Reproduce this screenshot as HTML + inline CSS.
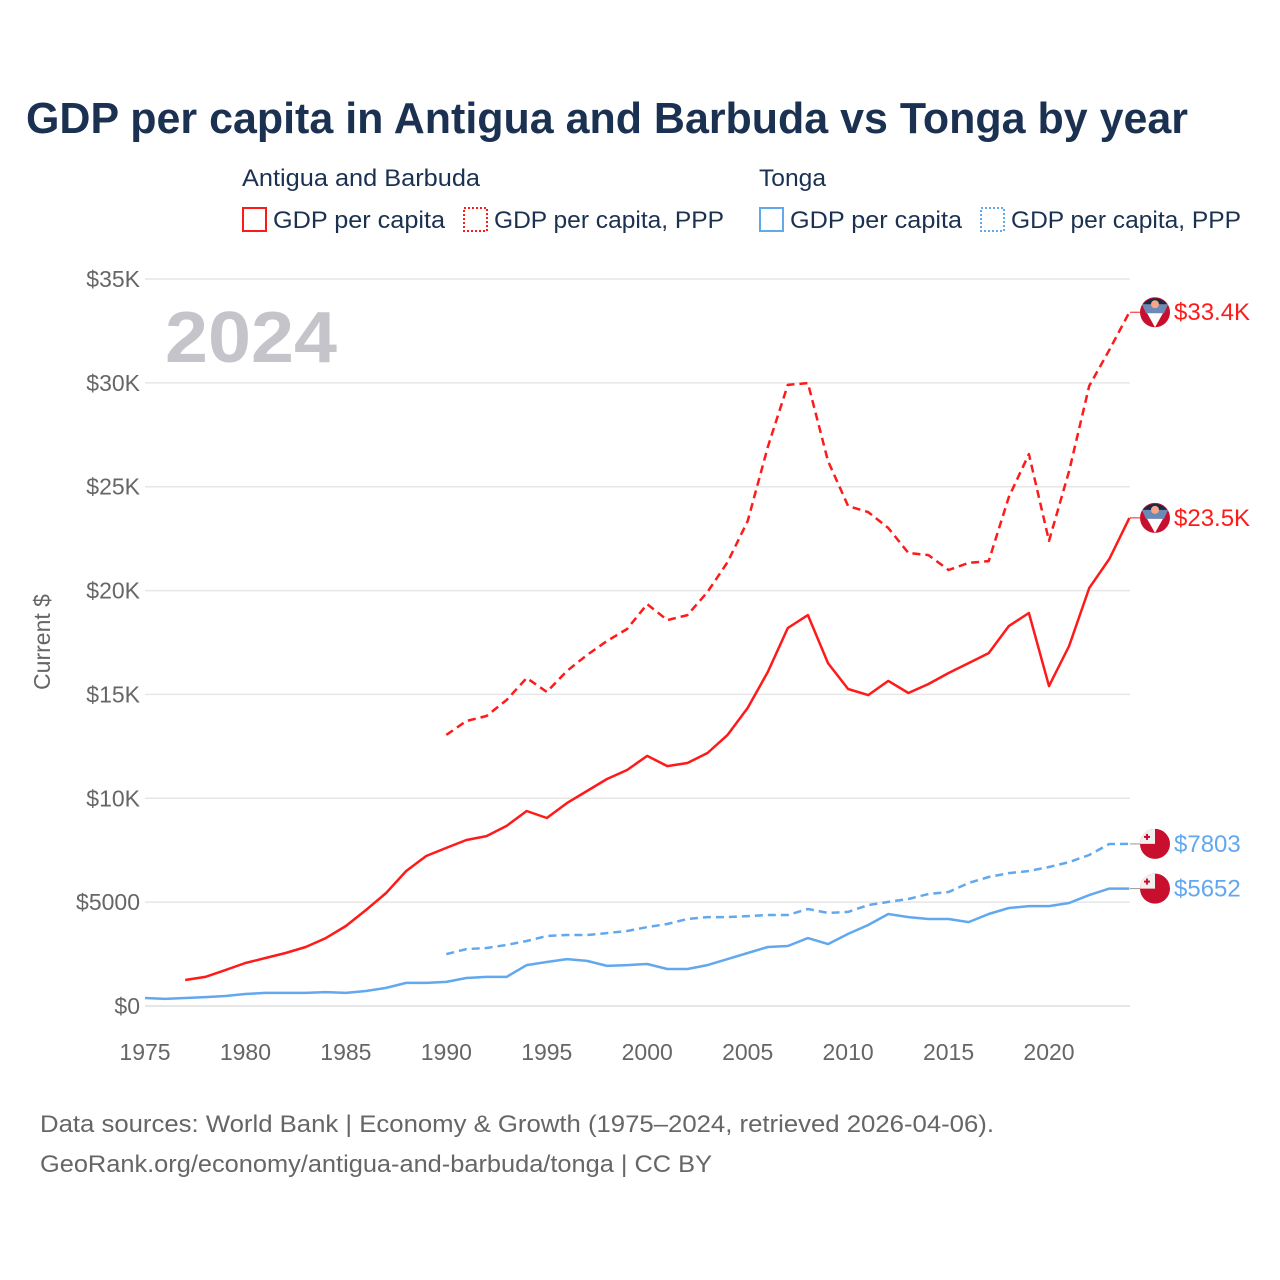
<!DOCTYPE html>
<html><head><meta charset="utf-8"><style>
html,body{margin:0;padding:0;background:#fff;}
svg{display:block;font-family:"Liberation Sans",sans-serif;}
</style></head><body>
<svg id="chart" width="1280" height="1280" viewBox="0 0 1280 1280">
<text x="26" y="133" font-size="44" font-weight="bold" fill="#1b3152" textLength="1162" lengthAdjust="spacingAndGlyphs">GDP per capita in Antigua and Barbuda vs Tonga by year</text>
<g font-size="24" fill="#1b3152">
<text x="242" y="186" textLength="238" lengthAdjust="spacingAndGlyphs">Antigua and Barbuda</text>
<text x="759" y="186" textLength="67" lengthAdjust="spacingAndGlyphs">Tonga</text>
<g><rect x="243" y="208" width="23" height="23" fill="none" stroke="#ff1a1a" stroke-width="2"/><text x="273" y="228" textLength="172" lengthAdjust="spacingAndGlyphs">GDP per capita</text></g>
<g><rect x="464" y="208" width="23" height="23" fill="none" stroke="#ff1a1a" stroke-width="2" stroke-dasharray="2,2"/><text x="494" y="228" textLength="230" lengthAdjust="spacingAndGlyphs">GDP per capita, PPP</text></g>
<g><rect x="760" y="208" width="23" height="23" fill="none" stroke="#62a8ee" stroke-width="2"/><text x="790" y="228" textLength="172" lengthAdjust="spacingAndGlyphs">GDP per capita</text></g>
<g><rect x="981" y="208" width="23" height="23" fill="none" stroke="#62a8ee" stroke-width="2" stroke-dasharray="2,2"/><text x="1011" y="228" textLength="230" lengthAdjust="spacingAndGlyphs">GDP per capita, PPP</text></g>
</g>
<text x="165" y="362" font-size="72" font-weight="bold" fill="#c4c4ca" textLength="172" lengthAdjust="spacingAndGlyphs">2024</text>
<text transform="translate(50,642) rotate(-90)" text-anchor="middle" font-size="23" fill="#666">Current $</text>
<g id="grid"></g><g id="yt"></g><g id="xt"></g><g id="lines"></g><g id="ends"></g>
<text x="40" y="1132" font-size="24" fill="#666" textLength="954" lengthAdjust="spacingAndGlyphs">Data sources: World Bank | Economy &amp; Growth (1975–2024, retrieved 2026-04-06).</text>
<text x="40" y="1172" font-size="24" fill="#666" textLength="672" lengthAdjust="spacingAndGlyphs">GeoRank.org/economy/antigua-and-barbuda/tonga | CC BY</text>
</svg>
<script>
const yTicks=[0,5000,10000,15000,20000,25000,30000,35000];
const yTickLabels=["$0","$5000","$10K","$15K","$20K","$25K","$30K","$35K"];
const xTicks=[1975,1980,1985,1990,1995,2000,2005,2010,2015,2020];
const agYears=[1977,1978,1979,1980,1981,1982,1983,1984,1985,1986,1987,1988,1989,1990,1991,1992,1993,1994,1995,1996,1997,1998,1999,2000,2001,2002,2003,2004,2005,2006,2007,2008,2009,2010,2011,2012,2013,2014,2015,2016,2017,2018,2019,2020,2021,2022,2023,2024];
const agGdp=[1250,1400,1730,2070,2310,2550,2840,3270,3850,4620,5440,6500,7220,7610,7990,8180,8670,9390,9050,9770,10350,10930,11360,12040,11550,11700,12180,13050,14350,16080,18200,18820,16510,15260,14970,15650,15070,15500,16030,16510,16990,18290,18920,15400,17330,20120,21520,23500];
const pppYears=[1990,1991,1992,1993,1994,1995,1996,1997,1998,1999,2000,2001,2002,2003,2004,2005,2006,2007,2008,2009,2010,2011,2012,2013,2014,2015,2016,2017,2018,2019,2020,2021,2022,2023,2024];
const agPpp=[13050,13720,13960,14730,15790,15120,16130,16900,17570,18150,19350,18580,18820,19930,21370,23350,26910,29900,29990,26240,24070,23780,23010,21810,21710,20990,21330,21420,24500,26570,22390,25750,29850,31580,33400];
const toYears=[1975,1976,1977,1978,1979,1980,1981,1982,1983,1984,1985,1986,1987,1988,1989,1990,1991,1992,1993,1994,1995,1996,1997,1998,1999,2000,2001,2002,2003,2004,2005,2006,2007,2008,2009,2010,2011,2012,2013,2014,2015,2016,2017,2018,2019,2020,2021,2022,2023,2024];
const toGdp=[385,340,385,430,480,580,630,630,630,670,630,720,870,1110,1110,1160,1350,1400,1400,1970,2120,2260,2170,1930,1970,2020,1780,1780,1970,2260,2550,2840,2890,3270,2980,3470,3900,4430,4280,4190,4190,4040,4430,4720,4810,4810,4960,5340,5650,5652];
const toPpp=[2500,2740,2790,2940,3130,3370,3420,3420,3510,3610,3800,3950,4190,4280,4280,4330,4380,4380,4670,4480,4530,4860,5010,5150,5390,5490,5920,6210,6400,6500,6690,6930,7270,7800,7803];
const endLabels=["$33.4K","$23.5K","$7803","$5652"];

const NS="http://www.w3.org/2000/svg";
const X0=145,X1=1130,Y0=1006,Y1=279;
const xs=yr=>X0+(yr-1975)*(1049-145)/45;
const ys=v=>Y0-v*(Y0-Y1)/35000;
function mk(tag,attrs,parent){const e=document.createElementNS(NS,tag);for(const k in attrs)e.setAttribute(k,attrs[k]);parent.appendChild(e);return e;}
const grid=document.getElementById('grid'),yt=document.getElementById('yt'),xt=document.getElementById('xt'),lines=document.getElementById('lines'),ends=document.getElementById('ends');
yTicks.forEach((v,i)=>{
  const l=mk('line',{x1:X0,x2:X1,y1:ys(v),y2:ys(v),stroke:'#e6e6e6','stroke-width':v===0?2:1.5},grid);
  
  
  const t=mk('text',{x:140,y:ys(v)+8,'text-anchor':'end','font-size':23,fill:'#666'},yt);
  t.textContent=yTickLabels[i];
  
  
});
xTicks.forEach(yr=>{
  const t=mk('text',{x:xs(yr),y:1060,'text-anchor':'middle','font-size':23,fill:'#666'},xt);
  t.textContent=yr;
  
  
});
function series(years,vals,color,dash,name){
  const d=years.map((y,i)=>(i?'L':'M')+xs(y).toFixed(1)+','+ys(vals[i]).toFixed(1)).join(' ');
  const p=mk('path',{d:d,fill:'none',stroke:color,'stroke-width':2.5,'stroke-linejoin':'round'},lines);
  if(dash)p.setAttribute('stroke-dasharray','8,5');
  
  
}
series(agYears,agGdp,'#ff1a1a',false,'line-antigua-gdp');
series(pppYears,agPpp,'#ff1a1a',true,'line-antigua-ppp');
series(toYears,toGdp,'#62a8ee',false,'line-tonga-gdp');
series(pppYears,toPpp,'#62a8ee',true,'line-tonga-ppp');
const endVals=[agPpp[agPpp.length-1],agGdp[agGdp.length-1],toPpp[toPpp.length-1],toGdp[toGdp.length-1]];
const endColors=['#ff1a1a','#ff1a1a','#62a8ee','#62a8ee'];
endVals.forEach((v,i)=>{
  const y=ys(v),cx=1155;
  const c=endColors[i];
  mk('line',{x1:X1,x2:cx-15,y1:y,y2:y,stroke:i<2?c:'#999','stroke-width':1},ends);
  const g=mk('g',{},ends);
  
  
  if(i<2){
    mk('circle',{cx:cx,cy:y,r:15,fill:'#c8102e'},g);
    mk('path',{d:`M${cx-13},${y-8} L${cx+13},${y-8} L${cx},${y+15} Z`,fill:'#fff'},g);
    mk('path',{d:`M${cx-13},${y-8} L${cx+13},${y-8} L${cx+9},${y+1} L${cx-9},${y+1} Z`,fill:'#6b8ab5'},g);
    mk('path',{d:`M${cx-12},${y-8} A15,15 0 0 1 ${cx+12},${y-8} Z`,fill:'#1b2a44'},g);
    mk('circle',{cx:cx,cy:y-8,r:4,fill:'#f5a58a'},g);
  } else {
    mk('circle',{cx:cx,cy:y,r:15,fill:'#c8102e'},g);
    mk('path',{d:`M${cx},${y} L${cx},${y-15} A15,15 0 0 0 ${cx-15},${y} Z`,fill:'#f0f0f0'},g);
    mk('rect',{x:cx-9,y:y-10,width:2,height:6,fill:'#c8102e'},g);
    mk('rect',{x:cx-11,y:y-8,width:6,height:2,fill:'#c8102e'},g);
  }
  const t=mk('text',{x:1174,y:y+8,'font-size':24,fill:c},ends);
  t.textContent=endLabels[i];
  
  
});
</script>
</body></html>
